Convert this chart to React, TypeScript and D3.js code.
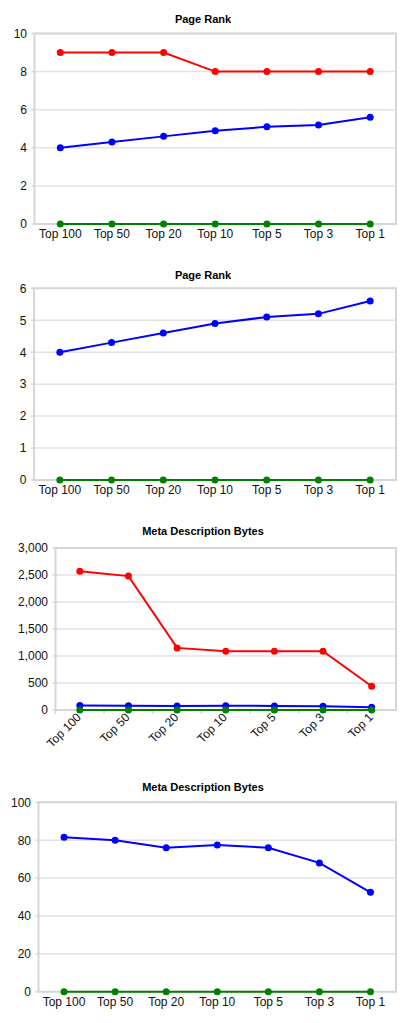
import * as d3 from "d3";

const categories = ["Top 100", "Top 50", "Top 20", "Top 10", "Top 5", "Top 3", "Top 1"];

const pageRankRed = [9, 9, 9, 8, 8, 8, 8];
const pageRankBlue = [4.0, 4.3, 4.6, 4.9, 5.1, 5.2, 5.6];
const pageRankGreen = [0, 0, 0, 0, 0, 0, 0];

const metaRed = [2570, 2480, 1150, 1090, 1090, 1090, 440];
const metaBlue = [81.5, 80, 76, 77.5, 76, 68, 52.5];
const metaGreen = [0, 0, 0, 0, 0, 0, 0];

const pageRankTicks = [0, 2, 4, 6, 8, 10];
const pageRankZoomTicks = [0, 1, 2, 3, 4, 5, 6];
const metaTicks = [0, 500, 1000, 1500, 2000, 2500, 3000];
const metaZoomTicks = [0, 20, 40, 60, 80, 100];

type Series = { color: string; values: number[] };

type ChartProps = {
  title: string;
  titleY: number;
  top: number;
  bottom: number;
  left: number;
  right: number;
  max: number;
  ticks: number[];
  series: Series[];
  rotate?: boolean;
  comma?: boolean;
};

const FONT = "'Liberation Sans', Arial, sans-serif";

function Chart({title, titleY, top, bottom, left, right, max, ticks, series, rotate, comma}: ChartProps) {
  const x = d3.scaleBand<string>().domain(categories).range([left, right]);
  const y = d3.scaleLinear().domain([0, max]).range([bottom, top]);
  const fmt = comma ? d3.format(",") : d3.format("d");
  const line = d3.line<number>()
    .x((_, i) => (x(categories[i]) as number) + x.bandwidth() / 2)
    .y(d => y(d));

  return (
    <g>
      <text x={203} y={titleY} textAnchor="middle" fontFamily={FONT}
            fontSize={11} fontWeight="bold" fill="#000">{title}</text>

      {ticks.map(t => (
        <g key={t}>
          <line x1={left} x2={right} y1={y(t)} y2={y(t)} stroke="#e2e2e2" strokeWidth={1.5}/>
          <line x1={left - 3} x2={left} y1={y(t)} y2={y(t)} stroke="#d6d6d6" strokeWidth={1.5}/>
          <text x={left - 7.5} y={y(t)} dy="0.36em" textAnchor="end" fontFamily={FONT}
                fontSize={12} fill="#111">{fmt(t)}</text>
        </g>
      ))}

      <rect x={left} y={top} width={right - left} height={bottom - top} fill="none"
            stroke="#d6d6d6" strokeWidth={2}/>

      {rotate && categories.map((c, i) => (
        <line key={"t" + i} x1={x(c)} x2={x(c)} y1={bottom} y2={bottom + 4} stroke="#d6d6d6" strokeWidth={1.5}/>
      ))}

      {series.map((s, si) => (
        <g key={si}>
          <path d={line(s.values) ?? ""} fill="none" stroke={s.color} strokeWidth={2}/>
          {s.values.map((v, i) => (
            <circle key={i} cx={(x(categories[i]) as number) + x.bandwidth() / 2} cy={y(v)} r={3.5} fill={s.color}/>
          ))}
        </g>
      ))}

      {categories.map(c => {
        const cx = (x(c) as number) + x.bandwidth() / 2;
        return rotate ? (
          <text key={c} transform={`translate(${cx + 2},${bottom + 8}) rotate(-45)`} textAnchor="end"
                fontFamily={FONT} fontSize={12} fill="#111">{c}</text>
        ) : (
          <text key={c} x={cx} y={bottom + 14} textAnchor="middle" fontFamily={FONT}
                fontSize={12} fill="#111">{c}</text>
        );
      })}
    </g>
  );
}

export default function App() {
  return (
    <svg width={419} height={1023} style={{position: "absolute", left: 0, top: 0, background: "#fff"}}>
      <Chart title="Page Rank" titleY={23} top={33.5} bottom={224} left={34.5} right={396} max={10}
             ticks={pageRankTicks}
             series={[
               {color: "#ff0000", values: pageRankRed},
               {color: "#0000ff", values: pageRankBlue},
               {color: "#008000", values: pageRankGreen},
             ]}/>
      <Chart title="Page Rank" titleY={279} top={288.3} bottom={480} left={34} right={396} max={6}
             ticks={pageRankZoomTicks}
             series={[
               {color: "#0000ff", values: pageRankBlue},
               {color: "#008000", values: pageRankGreen},
             ]}/>
      <Chart title="Meta Description Bytes" titleY={535} top={548} bottom={710} left={55.5} right={396} max={3000}
             ticks={metaTicks} rotate comma
             series={[
               {color: "#ff0000", values: metaRed},
               {color: "#0000ff", values: metaBlue},
               {color: "#008000", values: metaGreen},
             ]}/>
      <Chart title="Meta Description Bytes" titleY={791} top={802.3} bottom={991.7} left={38.5} right={396} max={100}
             ticks={metaZoomTicks}
             series={[
               {color: "#0000ff", values: metaBlue},
               {color: "#008000", values: metaGreen},
             ]}/>
    </svg>
  );
}
